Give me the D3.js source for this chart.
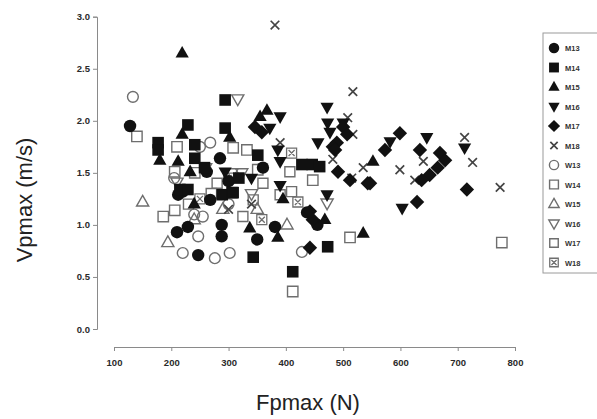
<!DOCTYPE html>
<html>
<head>
<meta charset="utf-8">
<script src="https://cdn.jsdelivr.net/npm/d3@7"></script>
<style>
  html, body { margin: 0; padding: 0; background: #fff; }
  svg { display: block; font-family: "Liberation Sans", Arial, sans-serif; }
</style>
</head>
<body>
<svg id="chart" width="597" height="419"></svg>
<script>
// Peak force (N) vs peak velocity (m/s), one series per group
const seriesNames = ["M13", "M14", "M15", "M16", "M17", "M18", "W13", "W14", "W15", "W16", "W17", "W18"];

const M13 = [[128,1.95],[285,1.64],[262,1.51],[212,1.29],[268,1.24],[210,0.93],[229,0.98],[288,1.0],[288,0.89],
             [247,0.71],[350,0.86],[381,0.98],[437,1.12],[220,1.32],[300,1.42],[360,1.55],[455,1.0]];
const M14 = [[294,2.20],[229,1.96],[294,1.93],[177,1.79],[241,1.77],[177,1.72],[241,1.64],[215,1.34],[229,1.34],
             [289,1.29],[306,1.31],[351,1.67],[428,1.58],[446,1.58],[459,1.56],[308,1.31],[343,0.69],[412,0.55],
             [473,0.79],[258,1.55],[318,1.45]];
const M15 = [[219,2.65],[219,1.87],[302,1.84],[180,1.62],[212,1.61],[233,1.51],[367,2.10],[355,2.04],[552,1.61],
             [468,1.05],[386,0.88],[337,0.97],[535,0.92],[395,1.25],[240,1.2]];
const M16 = [[294,1.51],[472,2.13],[390,2.04],[473,1.98],[477,1.89],[456,1.79],[386,1.72],[390,1.61],[390,1.38],
             [472,1.29],[582,1.80],[646,1.84],[603,1.16],[712,1.74],[500,1.98],[372,1.93],[340,1.45]];
const M17 = [[346,1.94],[358,1.89],[500,1.94],[507,1.87],[489,1.79],[482,1.75],[491,1.51],[512,1.43],[543,1.40],
             [599,1.88],[573,1.72],[547,1.40],[634,1.72],[669,1.69],[678,1.62],[665,1.55],[651,1.48],[637,1.43],
             [629,1.22],[716,1.34],[442,1.13],[447,1.05],[442,0.78],[486,1.72]];
const M18 = [[381,2.92],[517,2.28],[508,2.03],[517,1.87],[390,1.79],[482,1.63],[535,1.55],[599,1.53],[640,1.61],
             [625,1.43],[712,1.84],[726,1.60],[774,1.36],[515,1.45],[340,1.2],[300,1.15]];
const W13 = [[133,2.23],[268,1.79],[255,1.08],[220,0.73],[276,0.68],[302,0.73],[247,0.89],[428,0.74],[250,1.75],
             [205,1.45],[300,1.2],[240,1.1]];
const W14 = [[140,1.85],[210,1.75],[206,1.51],[241,1.50],[186,1.08],[206,1.14],[308,1.74],[332,1.72],[447,1.43],
             [412,0.36],[512,0.88],[777,0.83],[351,1.53],[270,1.3]];
const W15 = [[150,1.22],[194,0.83],[402,1.0],[290,1.15],[240,1.05],[350,1.15]];
const W16 = [[316,2.21],[210,1.41],[306,1.50],[323,1.50],[472,1.21],[260,1.55],[340,1.3]];
const W17 = [[407,1.51],[390,1.29],[410,1.32],[343,1.24],[325,1.08],[230,1.2],[280,1.4],[360,1.4]];
const W18 = [[410,1.69],[421,1.22],[358,1.05],[300,1.45],[250,1.25]];

const xTicks = [100, 200, 300, 400, 500, 600, 700, 800];
const yTicks = [0, 0.5, 1.0, 1.5, 2.0, 2.5, 3.0];

const svg = d3.select("#chart");

const x = d3.scaleLinear().domain([100, 800]).range([114, 515]);
const y = d3.scaleLinear().domain([0, 3]).range([329, 16.7]);

// marker shape paths centred on 0,0
const shapes = {
  circle: r => `M${r},0A${r},${r} 0 1,1 ${-r},0A${r},${r} 0 1,1 ${r},0Z`,
  square: r => `M${-r},${-r}H${r}V${r}H${-r}Z`,
  up: r => `M0,${-r * 1.15}L${r * 1.05},${r * 0.7}L${-r * 1.05},${r * 0.7}Z`,
  down: r => `M0,${r * 1.15}L${r * 1.05},${-r * 0.7}L${-r * 1.05},${-r * 0.7}Z`,
  diamond: r => `M0,${-r}L${r},0L0,${r}L${-r},0Z`,
  cross: r => `M${-r},${-r}L${r},${r}M${-r},${r}L${r},${-r}`,
  boxcross: r => `M${-r},${-r}H${r}V${r}H${-r}Z M${-r * 0.6},${-r * 0.6}L${r * 0.6},${r * 0.6}M${-r * 0.6},${r * 0.6}L${r * 0.6},${-r * 0.6}`
};

const ink = "#111";
const grey = "#6e6e6e";
const styles = {
  M13: { shape: "circle", r: 6.2, fill: ink, stroke: "none", sw: 0 },
  M14: { shape: "square", r: 5.8, fill: ink, stroke: "none", sw: 0 },
  M15: { shape: "up", r: 6.3, fill: ink, stroke: "none", sw: 0 },
  M16: { shape: "down", r: 6.3, fill: ink, stroke: "none", sw: 0 },
  M17: { shape: "diamond", r: 7.2, fill: ink, stroke: "none", sw: 0 },
  M18: { shape: "cross", r: 4.3, fill: "none", stroke: "#444", sw: 1.7 },
  W13: { shape: "circle", r: 5.4, fill: "none", stroke: grey, sw: 1.4 },
  W14: { shape: "square", r: 5.2, fill: "none", stroke: grey, sw: 1.4 },
  W15: { shape: "up", r: 5.8, fill: "none", stroke: grey, sw: 1.4 },
  W16: { shape: "down", r: 5.8, fill: "none", stroke: grey, sw: 1.4 },
  W17: { shape: "square", r: 5.0, fill: "none", stroke: grey, sw: 1.4 },
  W18: { shape: "boxcross", r: 5.0, fill: "none", stroke: grey, sw: 1.3 }
};

const data = { M13, M14, M15, M16, M17, M18, W13, W14, W15, W16, W17, W18 };

// axes
const axisColor = "#8a8a8a";
const yAxis = svg.append("g")
  .attr("transform", "translate(97,0)")
  .call(d3.axisLeft(y).tickValues(yTicks).tickFormat(d3.format(".1f")).tickSize(4).tickPadding(3));
const xAxis = svg.append("g")
  .attr("transform", "translate(0,347)")
  .call(d3.axisBottom(x).tickValues(xTicks).tickFormat(d3.format("d")).tickSize(4).tickPadding(8));
[yAxis, xAxis].forEach(g => {
  g.selectAll("path.domain").attr("stroke", axisColor).attr("stroke-width", 1);
  g.selectAll(".tick line").attr("stroke", axisColor);
  g.selectAll(".tick text").attr("fill", "#2a2a2a").style("font-size", "9.5px").style("font-weight", "bold")
    .style("font-family", "'Liberation Sans', Arial, sans-serif");
});

// axis titles
svg.append("text")
  .attr("transform", "translate(32,200) rotate(-90)")
  .attr("text-anchor", "middle")
  .attr("fill", "#222")
  .style("font-size", "22px")
  .text("Vpmax (m/s)");
svg.append("text")
  .attr("x", 308).attr("y", 410)
  .attr("text-anchor", "middle")
  .attr("fill", "#222")
  .style("font-size", "22px")
  .text("Fpmax (N)");

// points: open groups first, filled groups on top
const drawOrder = ["W13", "W14", "W15", "W16", "W17", "W18", "M18", "M13", "M14", "M15", "M16", "M17"];
const plot = svg.append("g");
drawOrder.forEach(name => {
  const st = styles[name];
  plot.append("g").attr("class", "series-" + name)
    .selectAll("path")
    .data(data[name])
    .join("path")
    .attr("transform", d => `translate(${x(d[0])},${y(d[1])})`)
    .attr("d", shapes[st.shape](st.r))
    .attr("fill", st.fill)
    .attr("stroke", st.stroke)
    .attr("stroke-width", st.sw);
});

// legend
const legend = svg.append("g").attr("transform", "translate(543,33)");
legend.append("rect")
  .attr("x", 0).attr("y", 0).attr("width", 60).attr("height", 240)
  .attr("fill", "#fff").attr("stroke", "#9a9a9a").attr("stroke-width", 1);
const item = legend.selectAll("g.item").data(seriesNames).join("g")
  .attr("class", "item")
  .attr("transform", (d, i) => `translate(0,${15 + i * 19.5})`);
item.append("path")
  .attr("transform", "translate(11,0)")
  .attr("d", d => shapes[styles[d].shape](styles[d].r * 0.85))
  .attr("fill", d => styles[d].fill)
  .attr("stroke", d => styles[d].stroke)
  .attr("stroke-width", d => styles[d].sw);
item.append("text")
  .attr("x", 22).attr("y", 3)
  .attr("fill", "#333")
  .style("font-size", "7.5px")
  .style("font-weight", "bold")
  .text(d => d);
</script>
</body>
</html>
